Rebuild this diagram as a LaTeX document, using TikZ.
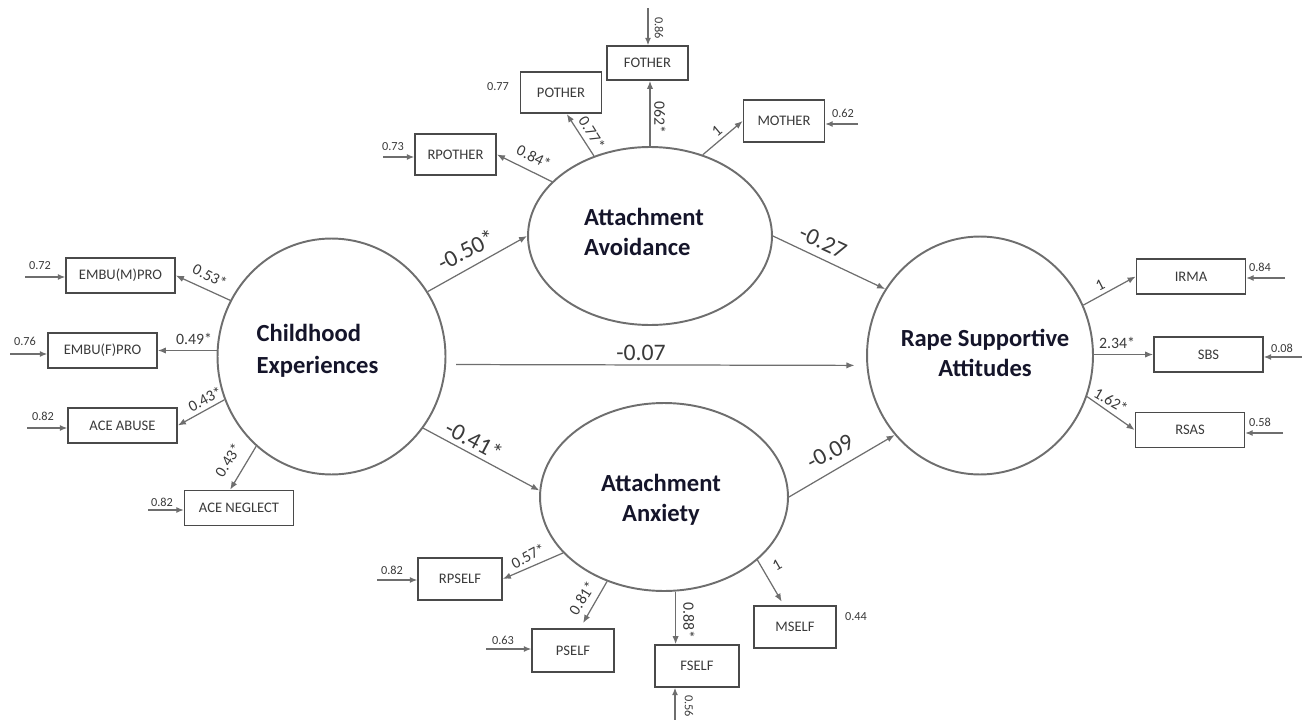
\documentclass[tikz,border=0pt]{standalone}
\usepackage{fontspec}
\setmainfont{Carlito}
\usetikzlibrary{arrows.meta,calc,shapes.geometric}
\definecolor{edge}{HTML}{6E6E6E}
\definecolor{boxline}{HTML}{4A4A4A}
\definecolor{ink}{HTML}{3A3A3A}
\definecolor{latink}{HTML}{15152A}
\tikzset{
  latent/.style={ellipse, draw=edge, line width=1.1pt, inner sep=0pt},
  lattext/.style={inner sep=0pt, text=latink, font=\fontsize{14}{17}\selectfont\bfseries},
  obs/.style={rectangle, draw=boxline, line width=0.95pt, inner sep=0pt,
    font=\fontsize{8.3}{10}\selectfont, text=ink},
  widebox/.style={obs, minimum width=2.18cm, minimum height=0.70cm},
  smallbox/.style={obs, minimum width=1.62cm, minimum height=0.83cm},
  conn/.style={draw=edge, line width=0.7pt, -{Latex[length=4.6pt,width=3.6pt]}},
  err/.style={draw=edge, line width=0.6pt, -{Latex[length=4.2pt,width=3.4pt]}},
  coef/.style={inner sep=0pt, text=ink, font=\fontsize{13.5}{15}\selectfont},
  load/.style={inner sep=0pt, text=ink, font=\fontsize{9}{10}\selectfont},
  errlab/.style={inner sep=0pt, text=ink, font=\fontsize{7}{8}\selectfont}
}
\begin{document}
\begin{tikzpicture}[x=0.02cm, y=-0.02cm]
\useasboundingbox (0,0) rectangle (1302,720);

% latent variables
\node[latent, minimum width=4.56cm, minimum height=4.72cm] (ch) at (331.5,356.5) {};
\node[latent, minimum width=4.88cm, minimum height=3.56cm] (av) at (650,236) {};
\node[latent, minimum width=4.96cm, minimum height=3.76cm] (anx) at (664,497) {};
\node[latent, minimum width=4.52cm, minimum height=4.76cm] (rs) at (980,355.5) {};

\node[lattext, align=left, font=\fontsize{14}{18.1}\selectfont\bfseries] (cht) at (317.5,351) {Childhood\\Experiences};
\node[lattext, align=left] (avt) at (644,232) {Attachment\\Avoidance};
\node[lattext, align=center] (anxt) at (661,500) {Attachment\\Anxiety};
\node[lattext, align=center] (rst) at (985,353) {Rape Supportive\\Attitudes};

% indicators of childhood experiences
\node[widebox] (embum) at (120.5,275.5) {EMBU(M)PRO};
\node[widebox] (embuf) at (102.5,350.5) {EMBU(F)PRO};
\node[widebox] (aceab) at (122.5,425.5) {ACE ABUSE};
\node[widebox] (aceneg) at (239,508) {ACE NEGLECT};

% indicators of rape supportive attitudes
\node[widebox] (irma) at (1191,276.5) {IRMA};
\node[widebox] (sbs) at (1208.5,354.5) {SBS};
\node[widebox] (rsas) at (1190,430) {RSAS};

% indicators of attachment avoidance
\node[smallbox, minimum height=0.68cm] (fother) at (647.5,63) {FOTHER};
\node[smallbox] (pother) at (561,92.5) {POTHER};
\node[smallbox] (rpother) at (455.5,154.5) {RPOTHER};
\node[smallbox, minimum height=0.84cm] (mother) at (784,121) {MOTHER};

% indicators of attachment anxiety
\node[smallbox, minimum width=1.68cm, minimum height=0.84cm] (rpself) at (460,579) {RPSELF};
\node[smallbox, minimum width=1.64cm, minimum height=0.86cm] (pself) at (573,650.5) {PSELF};
\node[smallbox, minimum width=1.68cm, minimum height=0.84cm] (fself) at (697,666) {FSELF};
\node[smallbox, minimum width=1.64cm, minimum height=0.84cm] (mself) at (795,627) {MSELF};

% structural paths
\draw[conn] (ch.34.4) -- (av.west);
\draw[conn, shorten <=5.7pt, shorten >=6.8pt] (ch.-4.7) -- (rs.185);
\draw[conn] (ch.-38) -- (anx.177.7);
\draw[conn] (av.east) -- (rs.145.6);
\draw[conn] (anx.east) -- (rs.223);

\node[coef, rotate=27] (c1) at (466,250) {-0.50*};
\node[coef, rotate=-25] (c2) at (823,242) {-0.27};
\node[coef] (c3) at (641,353) {-0.07};
\node[coef, rotate=-28] (c4) at (474,440) {-0.41*};
\node[coef, rotate=28] (c5) at (830,452) {-0.09};

% loadings: childhood experiences
\draw[conn] (ch.151.6) -- (embum.east);
\draw[conn] (ch.west |- embuf) -- (embuf.east);
\draw[conn] (ch.202.8) -- (aceab.east);
\draw[conn] (ch.230.2) -- ($(aceneg.north west)!.42!(aceneg.north east)$);
\node[load, rotate=-27] (l1) at (210,276) {0.53*};
\node[load] (l2) at (194,339) {0.49*};
\node[load, rotate=28] (l3) at (205,399) {0.43*};
\node[load, rotate=58] (l4) at (228,460) {0.43*};

% loadings: attachment avoidance
\draw[conn] (av.151) -- (rpother.east);
\draw[conn] (av.125.1) -- ($(pother.south west)!.57!(pother.south east)$);
\draw[conn] (av.north) -- (av.north |- fother.south);
\draw[conn] (av.57.4) -- (mother.west);
\node[load, rotate=-27] (l5) at (534,157) {0.84*};
\node[load, rotate=-58] (l6) at (592,133) {0.77*};
\node[load, rotate=-90] (l7) at (660,117) {062*};
\node[load, rotate=40] (l8) at (717,131) {1};

% loadings: attachment anxiety
\draw[conn] (anx.209.9) -- (rpself.east);
\draw[conn, shorten >=3.4pt] (anx.236.5) -- ($(pself.north west)!.585!(pself.north east)$);
\draw[conn] (anx.-83.3) -- (anx.-83.3 |- fself.north);
\draw[conn, shorten >=2.3pt] (anx.-34.1) -- ($(mself.north west)!.366!(mself.north east)$);
\node[load, rotate=28] (l9) at (528,556) {0.57*};
\node[load, rotate=58] (l10) at (582,598) {0.81*};
\node[load, rotate=-90] (l11) at (689,620) {0.88*};
\node[load, rotate=30] (l12) at (777,565) {1};

% loadings: rape supportive attitudes
\draw[conn] (rs.26.6) -- (irma.west);
\draw[conn] (rs.east |- sbs) -- (sbs.west);
\draw[conn] (rs.-21.2) -- (rsas.west);
\node[load, rotate=27] (l13) at (1100,285) {1};
\node[load] (l14) at (1117,343) {2.34*};
\node[load, rotate=-30] (l15) at (1111,401) {1.62*};

% error terms
\coordinate (e1) at (25,277);
\coordinate (e2) at (10,354);
\coordinate (e3) at (27,428);
\coordinate (e4) at (148,510);
\coordinate (e5) at (383,157);
\coordinate (e6) at (648,8);
\coordinate (e7) at (858,124);
\coordinate (e8) at (1285,278);
\coordinate (e9) at (1302,357);
\coordinate (e10) at (1283,433);
\coordinate (e11) at (377,580);
\coordinate (e12) at (486,649);
\coordinate (e13) at (675,720);

\draw[err] (e1) -- (e1 -| embum.west);
\draw[err] (e2) -- (e2 -| embuf.west);
\draw[err] (e3) -- (e3 -| aceab.west);
\draw[err] (e4) -- (e4 -| aceneg.west);
\draw[err] (e5) -- (e5 -| rpother.west);
\draw[err] (e6) -- (e6 |- fother.north);
\draw[err] (e7) -- (e7 -| mother.east);
\draw[err] (e8) -- (e8 -| irma.east);
\draw[err] (e9) -- (e9 -| sbs.east);
\draw[err] (e10) -- (e10 -| rsas.east);
\draw[err] (e11) -- (e11 -| rpself.west);
\draw[err] (e12) -- (e12 -| pself.west);
\draw[err] (e13) -- (e13 |- fself.south);

\node[errlab] (v1) at (40,266) {0.72};
\node[errlab] (v2) at (25,341) {0.76};
\node[errlab] (v3) at (43,416) {0.82};
\node[errlab] (v4) at (162,502) {0.82};
\node[errlab] (v5) at (393,147) {0.73};
\node[errlab] (v6) at (498,87) {0.77};
\node[errlab, rotate=-90] (v7) at (659,28) {0.86};
\node[errlab] (v8) at (843,113) {0.62};
\node[errlab] (v9) at (1260,267) {0.84};
\node[errlab] (v10) at (1282,348) {0.08};
\node[errlab] (v11) at (1260,422) {0.58};
\node[errlab] (v12) at (392,570) {0.82};
\node[errlab] (v13) at (503,640) {0.63};
\node[errlab, rotate=-90] (v14) at (689,706) {0.56};
\node[errlab] (v15) at (856,617) {0.44};
\end{tikzpicture}
\end{document}
